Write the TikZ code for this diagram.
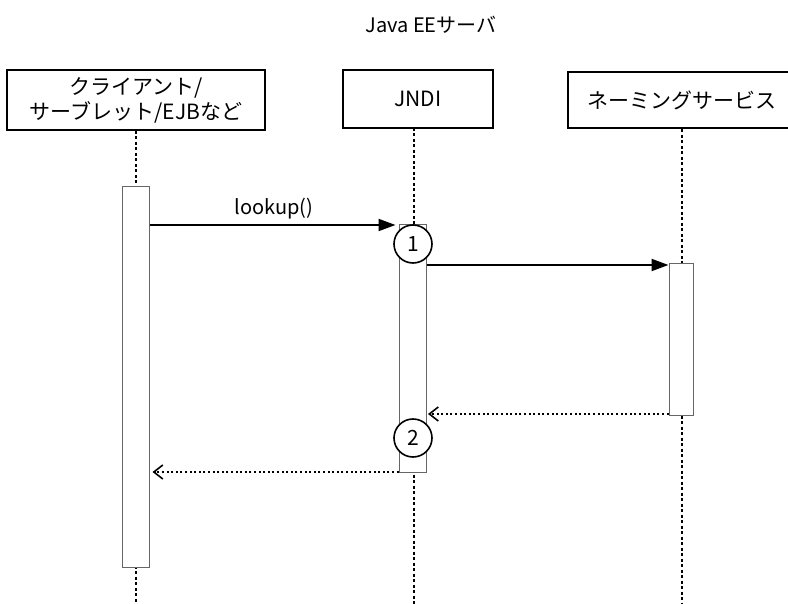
\documentclass[tikz,border=0pt]{standalone}
\usepackage{fontspec}
\setmainfont{Noto Sans CJK JP}
\usetikzlibrary{arrows.meta}
\begin{document}
\begin{tikzpicture}[x=1pt,y=-1pt,
  obj/.style={draw, line width=2pt, fill=white, inner sep=0pt, align=center,
    font=\fontsize{21}{25}\selectfont},
  act/.style={draw=black!60, line width=1pt, fill=white, inner sep=0pt},
  lifeline/.style={line width=2.2pt, dash pattern=on 3pt off 2.5pt},
  msg/.style={line width=2pt, -{Triangle[length=17pt,width=12pt]}},
  ret/.style={line width=2pt, dash pattern=on 2pt off 2.6pt,
    -{Straight Barb[length=9pt,width=14pt,line width=1.6pt]}},
  num/.style={circle, draw, line width=1.6pt, fill=white, minimum size=38pt,
    inner sep=0pt, font=\fontsize{21}{22}\selectfont},
  lbl/.style={font=\fontsize{20}{22}\selectfont}]
\useasboundingbox (0,0) rectangle (788,604);

% title
\node[lbl] (title) at (431,25) {Java EEサーバ};

% objects
\node[obj, minimum width=258pt, minimum height=60pt] (client) at (136,100) {クライアント/\\サーブレット/EJBなど};
\node[obj, minimum width=150pt, minimum height=58pt] (jndi) at (418,99) {JNDI};
\node[obj, minimum width=228pt, minimum height=56pt] (naming) at (682,100.5) {ネーミングサービス};

% lifelines
\coordinate (jtop) at (414,128);
\coordinate (cbot) at (136,604);
\coordinate (jbot) at (414,604);
\coordinate (nbot) at (682,604);
\draw[lifeline] (client.south) -- (cbot);
\draw[lifeline] (jtop) -- (jbot);
\draw[lifeline] (naming.south) -- (nbot);

% activations
\node[act, minimum width=27pt, minimum height=380pt] (ca) at (135.5,377) {};
\node[act, minimum width=27pt, minimum height=247pt] (ja) at (412.5,348.5) {};
\node[act, minimum width=24pt, minimum height=151pt] (na) at (681,339.5) {};

% messages
\coordinate (m1s) at (ca.east |- 0,225);
\coordinate (m1e) at (ja.west |- 0,225);
\draw[msg, shorten >=3pt] (m1s) -- (m1e) node[lbl, midway, above=2pt] (lk) {lookup()};

\coordinate (m2s) at (ja.east |- 0,265);
\coordinate (m2e) at (na.west |- 0,265);
\draw[msg] (m2s) -- (m2e);

\coordinate (r1s) at (na.west |- 0,414);
\coordinate (r1e) at (ja.east |- 0,414);
\draw[ret, shorten >=1.5pt] (r1s) -- (r1e);

\coordinate (r2s) at (ja.west |- 0,472);
\coordinate (r2e) at (ca.east |- 0,472);
\draw[ret, shorten >=3pt] (r2s) -- (r2e);

% numbers
\node[num] (n1) at (413,244) {1};
\node[num] (n2) at (413,438) {2};
\end{tikzpicture}
\end{document}
